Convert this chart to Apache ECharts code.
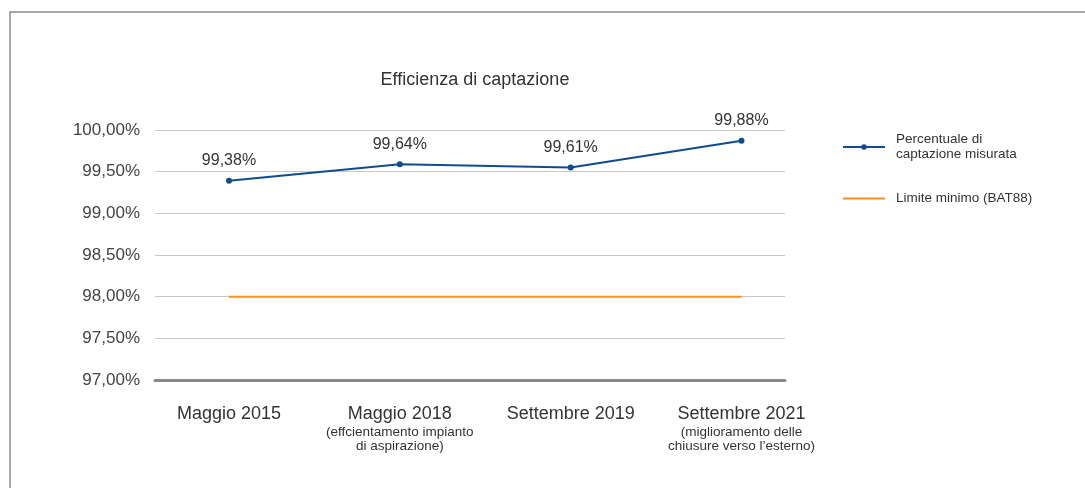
<!DOCTYPE html>
<html>
<head>
<meta charset="utf-8">
<script src="https://cdn.jsdelivr.net/npm/echarts@6/dist/echarts.min.js"></script>
<style>
html,body{margin:0;padding:0;background:#fff;}
#c{width:1085px;height:488px;}
</style>
</head>
<body>
<div id="c"></div>
<script>
const titolo = 'Efficienza di captazione';
const categorie = ['Maggio 2015', 'Maggio 2018', 'Settembre 2019', 'Settembre 2021'];
const sottotitoli = ['', '(effcientamento impianto\ndi aspirazione)', '', '(miglioramento delle\nchiusure verso l\u2019esterno)'];
const captazione = [99.39, 99.59, 99.55, 99.87];
const etichette = ['99,38%', '99,64%', '99,61%', '99,88%'];
const limiteMinimo = [98, 98, 98, 98];
const yTicks = [97, 97.5, 98, 98.5, 99, 99.5, 100];
const yTickLabels = ['97,00%', '97,50%', '98,00%', '98,50%', '99,00%', '99,50%', '100,00%'];
const nomeSerie1 = 'Percentuale di captazione misurata';
const nomeSerie2 = 'Limite minimo (BAT88)';

const font = '"Liberation Sans", Arial, sans-serif';
const chart = echarts.init(document.getElementById('c'));
chart.setOption({
  animation: false,
  backgroundColor: '#fff',
  textStyle: { fontFamily: font },
  title: {
    text: titolo, left: 470, top: 66, textAlign: 'center',
    textStyle: { fontFamily: font, fontSize: 18, fontWeight: 'normal', color: '#333' }
  },
  graphic: [{
    type: 'polyline',
    shape: { points: [[10, 488], [10, 12], [1085, 12]] },
    style: { stroke: '#8a8a8a', lineWidth: 1.5, fill: null }
  }],
  legend: {
    orient: 'vertical', left: 837, top: 127,
    itemWidth: 42, itemHeight: 7, itemGap: 29,
    textStyle: { fontFamily: font, fontSize: 13.5, color: '#333', lineHeight: 15, padding: [0, 0, 0, 6] },
    formatter: function (n) { return n === nomeSerie1 ? 'Percentuale di\ncaptazione misurata' : n; },
    data: [nomeSerie1, { name: nomeSerie2, itemStyle: { opacity: 0 } }]
  },
  grid: [
    { left: 155, right: 300, top: 130, bottom: 108 },
    { left: 229, right: 343.5, top: 130, bottom: 108 }
  ],
  xAxis: [
    { type: 'value', gridIndex: 0, min: 0, max: 1,
      axisLine: { show: true, lineStyle: { color: '#8a8a8a', width: 3 } },
      axisTick: { show: false }, axisLabel: { show: false }, splitLine: { show: false } },
    { type: 'category', gridIndex: 1, boundaryGap: false, data: categorie,
      axisLine: { show: false }, axisTick: { show: false },
      axisLabel: {
        margin: 23, interval: 0,
        formatter: function (v, i) {
          let s = '{a|' + v + '}';
          if (sottotitoli[i]) s += '\n' + sottotitoli[i].split('\n').map(t => '{b|' + t + '}').join('\n');
          return s;
        },
        rich: {
          a: { fontFamily: font, fontSize: 18, color: '#333', lineHeight: 22, align: 'center' },
          b: { fontFamily: font, fontSize: 13.5, color: '#333', lineHeight: 14, align: 'center' }
        }
      } }
  ],
  yAxis: [
    { type: 'value', gridIndex: 0, min: 97, max: 100, interval: 0.5,
      axisLine: { show: false }, axisTick: { show: false },
      axisLabel: { margin: 15, fontFamily: font, fontSize: 17, color: '#444',
        formatter: function (v) { const k = yTicks.findIndex(t => Math.abs(t - v) < 1e-6); return k >= 0 ? yTickLabels[k] : ''; } },
      splitLine: { lineStyle: { color: '#c8c8c8', width: 1 } } },
    { type: 'value', gridIndex: 1, min: 97, max: 100, interval: 0.5, show: false, splitLine: { show: false } }
  ],
  series: [
    { name: nomeSerie1, type: 'line', xAxisIndex: 1, yAxisIndex: 1, data: captazione,
      color: '#0f4c8f', symbol: 'circle', symbolSize: 6,
      lineStyle: { width: 2, color: '#0f4c8f' }, itemStyle: { color: '#0f4c8f' },
      label: { show: true, position: 'top', distance: 9, fontFamily: font, fontSize: 16, color: '#333',
        formatter: function (p) { return etichette[p.dataIndex]; } },
      z: 3 },
    { name: nomeSerie2, type: 'line', xAxisIndex: 1, yAxisIndex: 1, data: limiteMinimo,
      color: '#f7931e', symbol: 'none', showSymbol: false,
      lineStyle: { width: 2, color: '#f7931e' }, itemStyle: { color: '#f7931e' }, z: 2 }
  ]
});
</script>
</body>
</html>
